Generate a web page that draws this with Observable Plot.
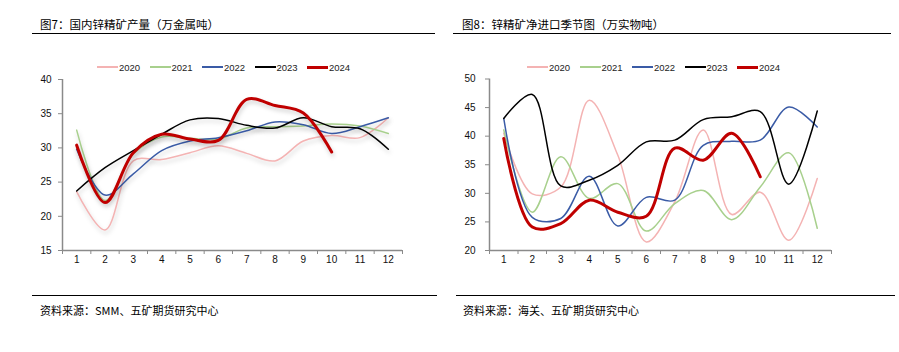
<!DOCTYPE html>
<html><head><meta charset="utf-8">
<script src="https://cdn.jsdelivr.net/npm/d3@7"></script>
<script src="https://cdn.jsdelivr.net/npm/@observablehq/plot@0.6"></script>
<style>
body{margin:0;width:899px;height:352px;background:#fff;position:relative;overflow:hidden;font-family:"Noto Sans CJK SC",sans-serif;}
.title{position:absolute;top:16px;font-size:11.5px;line-height:16px;color:#000;white-space:nowrap;}
.rule{position:absolute;height:0;border-top:1.5px solid #000;}
.src{position:absolute;top:302px;font-size:11px;line-height:16px;color:#000;white-space:nowrap;}
.legend{position:absolute;top:61px;height:12px;display:flex;font-family:"Liberation Sans",Arial,sans-serif;font-size:9.5px;color:#222;}
.item{width:52.5px;display:flex;align-items:center;}
.sw{display:inline-block;width:21px;margin-right:1px;flex:none;}
.chart{position:absolute;top:40px;}
#left g[aria-label="line"] path{filter:drop-shadow(1px 3px 2px rgba(0,0,0,0.18));}
</style>
</head><body>
<div class="title" style="left:40px">图7：国内锌精矿产量（万金属吨）</div>
<div class="rule" style="left:32px;width:403px;top:33px"></div>
<div class="title" style="left:462px">图8：锌精矿净进口季节图（万实物吨）</div>
<div class="rule" style="left:453px;width:438px;top:33px"></div>
<div class="rule" style="left:32px;width:405px;top:295px"></div>
<div class="rule" style="left:456px;width:439px;top:295px"></div>
<div class="src" style="left:40px">资料来源：SMM、五矿期货研究中心</div>
<div class="src" style="left:463px">资料来源：海关、五矿期货研究中心</div>
<div id="left" class="chart" style="left:0px"></div>
<div id="right" class="chart" style="left:450px"></div>
<div id="legL" class="legend" style="left:97px"></div>
<div id="legR" class="legend" style="left:527px"></div>
<script>
const months = [1,2,3,4,5,6,7,8,9,10,11,12];
const years = ["2020","2021","2022","2023","2024"];
const colors = ["#f4b3b3","#a8d08d","#3a5ba6","#000000","#c00000"];
const widths = [1.5,1.5,1.5,1.5,3];

// Fig 7: domestic zinc concentrate output (10k t metal)
const prod2020 = [23.6,18.0,28.1,28.3,29.3,30.3,29.2,28.1,31.0,31.8,31.5,34.4];
const prod2021 = [32.6,22.3,29.1,31.6,31.4,31.3,32.9,33.1,33.2,33.5,33.2,32.1];
const prod2022 = [29.8,23.1,26.2,29.6,31.0,31.5,32.5,33.8,33.4,32.1,33.1,34.4];
const prod2023 = [23.7,27.1,29.6,32.0,34.1,34.3,33.3,32.9,34.4,33.1,32.8,29.8];
const prod2024 = [30.4,22.0,29.3,32.0,31.3,31.1,37.1,36.2,35.1,29.4];
const prodTicks = [15,20,25,30,35,40];

// Fig 8: zinc concentrate net imports (10k t)
const imp2020 = [40.5,29.9,31.1,46.3,36.7,21.5,28.5,41.1,26.3,30.2,21.8,32.6];
const imp2021 = [41.1,26.7,36.4,29.1,31.7,23.4,28.2,30.5,25.4,31.1,37.1,23.9];
const imp2022 = [43.1,25.8,25.6,33.0,24.3,29.3,28.8,38.4,39.1,39.3,45.1,41.6];
const imp2023 = [43.1,47.3,31.3,32.3,34.9,39.0,39.3,42.9,43.4,44.3,31.6,44.4];
const imp2024 = [39.6,24.1,24.7,28.8,26.7,26.0,37.9,35.8,40.5,32.9];
const impTicks = [20,25,30,35,40,45,50];

const edges = [0.5,1.5,2.5,3.5,4.5,5.5,6.5,7.5,8.5,9.5,10.5,11.5,12.5];

function rows(series){
  const out=[];
  series.forEach((vals,i)=>vals.forEach((v,j)=>out.push({year:years[i],month:months[j],value:v})));
  return out;
}

function chart(el, series, yTicks, opts){
  const data = rows(series);
  const axisColor = "#8a8a8a";
  const lineMarks = years.map((y,i)=>Plot.line(data.filter(d=>d.year===y),{
    x:"month", y:"value", stroke:colors[i], strokeWidth:widths[i],
    curve:"catmull-rom", strokeLinejoin:"round", strokeLinecap:"round"
  }));
  const p = Plot.plot({
    width:opts.width, height:250,
    marginLeft:opts.ml, marginRight:opts.mr, marginTop:opts.mt, marginBottom:opts.mb,
    style:{fontFamily:"'Liberation Sans',Arial,sans-serif", fontSize:"10px", color:"#111", background:"transparent", overflow:"visible"},
    x:{domain:[edges[0], edges[edges.length-1]], axis:null},
    y:{domain:[yTicks[0], yTicks[yTicks.length-1]], axis:null},
    marks:[
      Plot.ruleX([edges[0]],{stroke:axisColor, strokeWidth:1.5}),
      Plot.ruleY([yTicks[0]],{stroke:axisColor, strokeWidth:1.5}),
      Plot.axisY({ticks:yTicks, label:null, tickSize:4, tickPadding:opts.yPad, stroke:axisColor, fill:"#111", tickFormat:d=>String(d)}),
      Plot.axisX({ticks:edges, label:null, tickSize:4, tickFormat:()=>"", stroke:axisColor}),
      Plot.axisX({ticks:months, label:null, tickSize:0, tickPadding:5, fill:"#111", tickFormat:d=>String(d)}),
      ...lineMarks
    ]
  });
  document.getElementById(el).appendChild(p);
}

chart("left",[prod2020,prod2021,prod2022,prod2023,prod2024],prodTicks,{width:450,ml:62,mr:48,mt:39,mb:40,yPad:7});
chart("right",[imp2020,imp2021,imp2022,imp2023,imp2024],impTicks,{width:449,ml:39,mr:68,mt:38.5,mb:40,yPad:10});

function legend(id){
  const el=document.getElementById(id);
  years.forEach((y,i)=>{
    const it=document.createElement("div"); it.className="item";
    const sw=document.createElement("span"); sw.className="sw";
    sw.style.height=(i===4?3:2)+"px";
    sw.style.background=colors[i];
    const t=document.createElement("span"); t.textContent=y;
    it.appendChild(sw); it.appendChild(t); el.appendChild(it);
  });
}
legend("legL"); legend("legR");
</script>
</body></html>
